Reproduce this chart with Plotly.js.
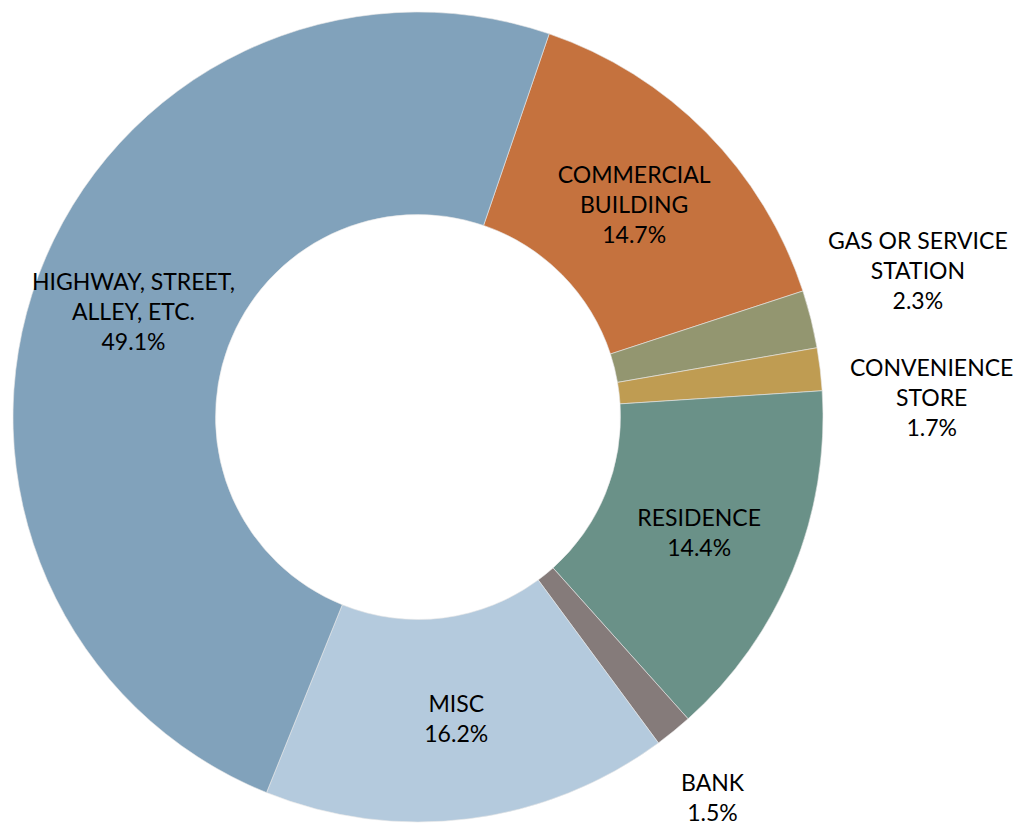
<!DOCTYPE html>
<html>
<head>
<meta charset="utf-8">
<script src="https://cdn.plot.ly/plotly-3.0.1.min.js"></script>
<style>html,body{margin:0;padding:0;background:#fff;}#chart{width:1019px;height:827px;}</style>
</head>
<body>
<div id="chart"></div>
<script>
const categories = ["COMMERCIAL<br>BUILDING", "GAS OR SERVICE<br>STATION", "CONVENIENCE<br>STORE", "RESIDENCE", "BANK", "MISC", "HIGHWAY, STREET,<br>ALLEY, ETC."];
const shares = [14.7, 2.3, 1.7, 14.4, 1.5, 16.2, 49.1];
const colors = ["#C5723E", "#939670", "#BF9C52", "#6A9188", "#857B7A", "#B4CADD", "#81A2BB"];
// "plotly" = drawn as inside text by Plotly, otherwise placed as an annotation
const labelMode = ["plotly", "outside", "outside", "plotly", "outside", "plotly", "ring"];

const W = 1019, H = 827;
const cx = 418, cy = 417, R = 405, HOLE = 0.5, ROT = 18.9;
const FONT = {family: "Lato, 'Open Sans', sans-serif", size: 23, color: "#000"};

const texts = shares.map((v, i) => labelMode[i] === "plotly" ? categories[i] + "<br>" + v.toFixed(1) + "%" : "");

const trace = {
  type: "pie",
  labels: categories,
  values: shares,
  text: texts,
  textinfo: "text",
  hoverinfo: "label+percent",
  sort: false,
  direction: "clockwise",
  rotation: ROT,
  hole: HOLE,
  marker: {colors: colors, line: {color: "#e8e8e8", width: 0.6}},
  textposition: "inside",
  insidetextorientation: "horizontal",
  insidetextfont: FONT,
  showlegend: false,
  domain: {x: [(cx - R) / W, (cx + R) / W], y: [(H - cy - R) / H, (H - cy + R) / H]}
};

// label positions
const total = shares.reduce((a, b) => a + b, 0);
let cum = 0;
const midAngles = shares.map(v => { const m = ROT + (cum + v / 2) / total * 360; cum += v; return m; });
const outsidePos = {1: [918, 270], 2: [931, 397], 4: [713, 797]};
const annotations = [];
shares.forEach((v, i) => {
  let px, py;
  if (labelMode[i] === "ring") {
    const a = midAngles[i] * Math.PI / 180, r = R * (1 + HOLE) / 2;
    px = cx + r * Math.sin(a); py = cy - r * Math.cos(a);
  } else if (labelMode[i] === "outside") {
    px = outsidePos[i][0]; py = outsidePos[i][1];
  } else return;
  annotations.push({
    xref: "paper", yref: "paper",
    x: px / W, y: 1 - py / H,
    xanchor: "center", yanchor: "middle",
    text: categories[i] + "<br>" + v.toFixed(1) + "%",
    showarrow: false,
    font: FONT
  });
});

const layout = {
  width: W, height: H,
  margin: {l: 0, r: 0, t: 0, b: 0},
  paper_bgcolor: "#fff",
  annotations: annotations
};

Plotly.newPlot("chart", [trace], layout, {displayModeBar: false, staticPlot: true});
</script>
</body>
</html>
